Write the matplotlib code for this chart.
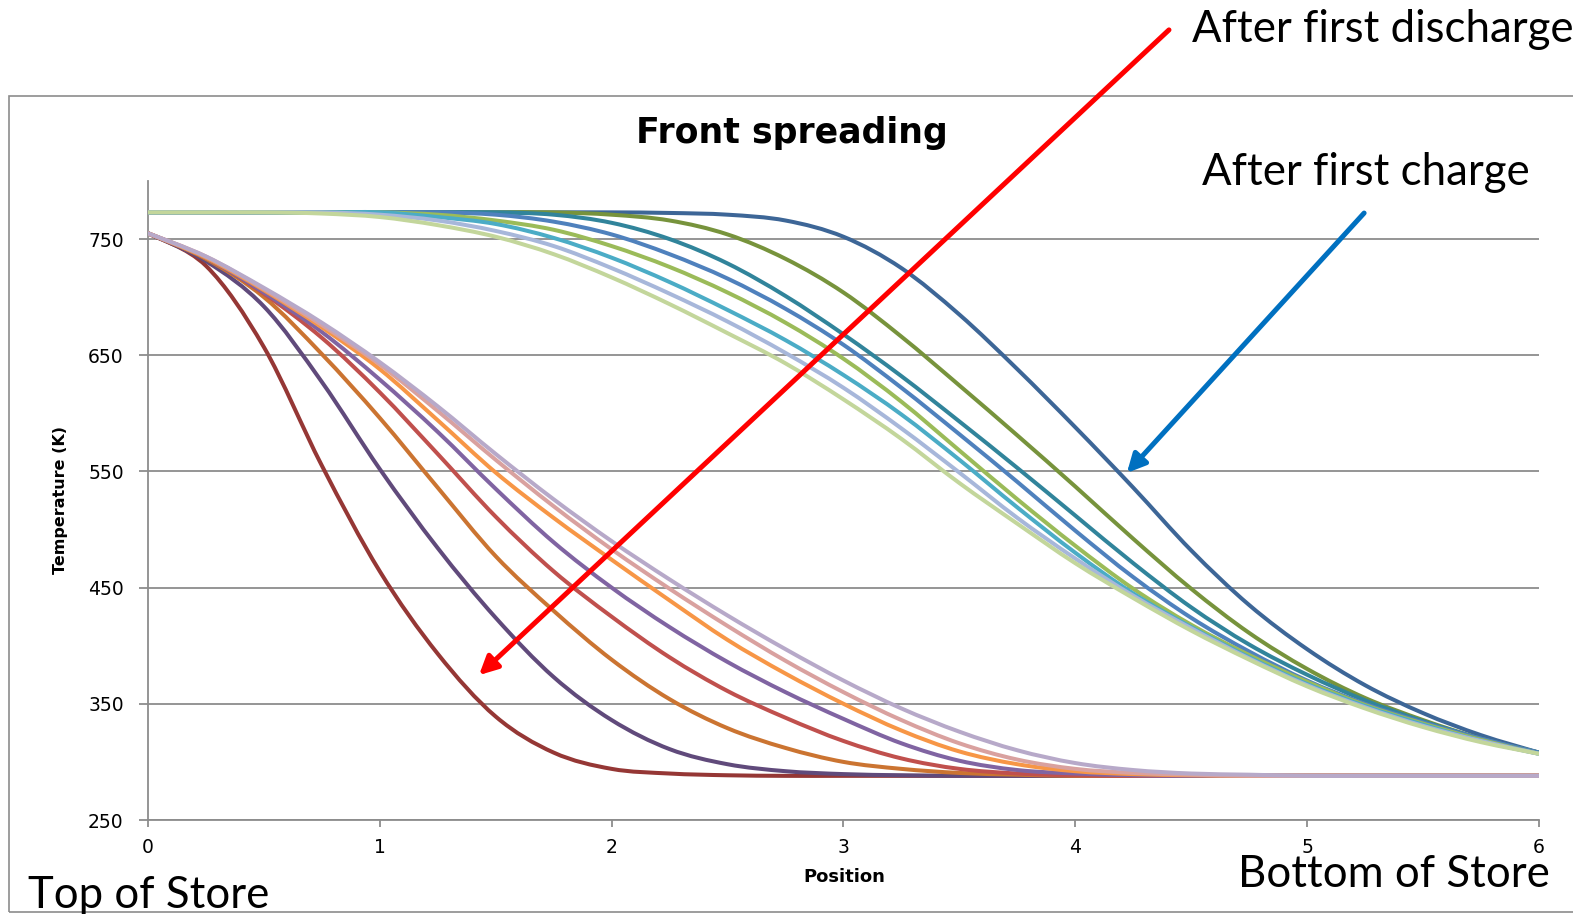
import matplotlib.pyplot as plt
from matplotlib import font_manager
from matplotlib.patches import Rectangle, FancyArrowPatch, PathPatch
from matplotlib.path import Path

# position along the store (0 = top, 6 = bottom)
position = [0, 0.25, 0.5, 0.75, 1, 1.25, 1.5, 1.75, 2, 2.25, 2.5, 2.75, 3,
            3.25, 3.5, 3.75, 4, 4.25, 4.5, 4.75, 5, 5.25, 5.5, 5.75, 6]

# temperature profiles (K) after each charge
charge_1 = [773, 773, 773, 773, 773, 773, 773, 773, 773, 772.5, 771, 766, 752,
            725, 685, 638, 588, 536, 482, 435, 397, 366, 342, 323, 308]
charge_2 = [773, 773, 773, 773, 773, 773, 773, 773, 771, 766, 754, 733, 704,
            666, 624, 581, 537, 492, 449, 411, 380, 355, 336, 320, 308]
charge_3 = [773, 773, 773, 773, 773, 773, 773, 771, 764, 750, 729, 701, 668,
            632, 593, 553, 512, 471, 433, 401, 375, 353, 335, 320, 308]
charge_4 = [773, 773, 773, 773, 773, 773, 771, 765, 754, 737, 716, 690, 659,
            622, 582, 541, 499, 459, 424, 395, 370, 350, 334, 320, 308]
charge_5 = [773, 773, 773, 773, 773, 771, 766, 758, 744, 726, 704, 678, 647,
            610, 568, 526, 486, 449, 418, 392, 369, 349, 333, 319, 307]
charge_6 = [773, 773, 773, 773, 773, 769, 763, 751, 734, 713, 689, 663, 633,
            599, 560, 519, 480, 445, 416, 390, 367, 348, 332, 318, 307]
charge_7 = [773, 773, 773, 773, 771, 766, 757, 744, 725, 703, 679, 652, 622,
            587, 549, 510, 475, 443, 415, 389, 366, 347, 331, 318, 307]
charge_8 = [773, 773, 773, 772, 769, 762, 752, 737, 717, 694, 669, 643, 612,
            578, 540, 505, 471, 441, 413, 388, 365, 346, 330, 317, 307]

# temperature profiles (K) after each discharge
discharge_1 = [755, 727, 657, 555, 464, 393, 339, 308, 294, 290, 288.5, 288, 288,
               288, 288, 288, 288, 288, 288, 288, 288, 288, 288, 288, 288]
discharge_2 = [755, 731, 692, 627, 552, 484, 424, 373, 336, 311, 298, 292, 289.5,
               288.5, 288, 288, 288, 288, 288, 288, 288, 288, 288, 288, 288]
discharge_3 = [755, 733, 700, 651, 596, 536, 477, 430, 388, 354, 329, 312, 300,
               294, 290.5, 289, 288, 288, 288, 288, 288, 288, 288, 288, 288]
discharge_4 = [755, 734, 703, 665, 618, 565, 511, 464, 425, 390, 361, 338, 318,
               303, 294, 290, 288.5, 288, 288, 288, 288, 288, 288, 288, 288]
discharge_5 = [755, 734, 704, 670, 629, 584, 535, 489, 450, 416, 386, 360, 337,
               316, 301, 293, 290, 288.5, 288, 288, 288, 288, 288, 288, 288]
discharge_6 = [755, 734, 706, 674, 638, 594, 549, 510, 474, 439, 405, 376, 350,
               327, 309, 298, 292, 289.5, 288.5, 288, 288, 288, 288, 288, 288]
discharge_7 = [755, 735, 707, 676, 642, 602, 560, 520, 483, 449, 417, 387, 360,
               336, 316, 302, 294, 290.5, 289, 288, 288, 288, 288, 288, 288]
discharge_8 = [755, 735, 708, 678, 644, 606, 565, 526, 490, 457, 426, 397, 370,
               346, 326, 310, 299, 293, 290, 289, 288, 288, 288, 288, 288]

charges = [charge_1, charge_2, charge_3, charge_4, charge_5, charge_6, charge_7, charge_8]
discharges = [discharge_1, discharge_2, discharge_3, discharge_4,
              discharge_5, discharge_6, discharge_7, discharge_8]
charge_colors = ['#3D6697', '#77933C', '#31849B', '#4F81BD',
                 '#9BBB59', '#4BACC6', '#A7B7DA', '#C3D69B']
discharge_colors = ['#953735', '#604A7B', '#CB7431', '#C0504D',
                    '#8064A2', '#F79646', '#D9A19F', '#B7A9C9']

W, H = 1573, 914


def fx(px):
    return px / W


def fy(py):
    return 1 - py / H


def smooth_line(ax, xs, ys, color):
    # excel style "smoothed line": bezier segments through the data points
    n = len(xs)
    verts = [(xs[0], ys[0])]
    codes = [Path.MOVETO]
    for i in range(n - 1):
        x0, y0 = (xs[i - 1], ys[i - 1]) if i > 0 else (xs[i], ys[i])
        x3, y3 = (xs[i + 2], ys[i + 2]) if i + 2 < n else (xs[i + 1], ys[i + 1])
        c1 = (xs[i] + (xs[i + 1] - x0) / 6, ys[i] + (ys[i + 1] - y0) / 6)
        c2 = (xs[i + 1] - (x3 - xs[i]) / 6, ys[i + 1] - (y3 - ys[i]) / 6)
        verts += [c1, c2, (xs[i + 1], ys[i + 1])]
        codes += [Path.CURVE4] * 3
    ax.add_patch(PathPatch(Path(verts, codes), fill=False, edgecolor=color, lw=2.9,
                           capstyle='round', joinstyle='round', zorder=3))


fig = plt.figure(figsize=(W / 100, H / 100), dpi=100)
fig.patch.set_facecolor('white')

# chart area frame
fig.patches.append(Rectangle((fx(9), fy(912)), fx(1575) - fx(9), fy(96) - fy(912),
                             transform=fig.transFigure, fill=False,
                             edgecolor='#8C8C8C', linewidth=1.2, zorder=0))

ax = fig.add_axes([fx(148), fy(820), fx(1539) - fx(148), fy(181) - fy(820)])
grid_c = '#8C8C8C'

for i in range(8):
    smooth_line(ax, position, charges[i], charge_colors[i])
    smooth_line(ax, position, discharges[i], discharge_colors[i])

ax.set_xlim(0, 6)
ax.set_ylim(250, 800)
ax.set_xticks([0, 1, 2, 3, 4, 5, 6])
ax.set_yticks([250, 350, 450, 550, 650, 750])
ax.grid(axis='y', color=grid_c, lw=1.3, zorder=1)
ax.set_axisbelow(True)
for s in ['top', 'right']:
    ax.spines[s].set_visible(False)
for s in ['left', 'bottom']:
    ax.spines[s].set_color(grid_c)
    ax.spines[s].set_linewidth(1.3)
ax.tick_params(axis='x', length=5, width=1.3, color=grid_c, pad=8, labelsize=13.5)
ax.tick_params(axis='y', length=6.5, width=1.3, color=grid_c, pad=11, labelsize=13.5)

names = {f.name for f in font_manager.fontManager.ttflist}
if 'Liberation Sans Narrow' in names:
    fig.text(fx(60), fy(500), 'Temperature (K)', rotation=90, ha='center', va='center',
             family='Liberation Sans Narrow', fontweight='bold', fontsize=14.5)
else:
    fig.text(fx(60), fy(500), 'Temperature (K)', rotation=90, ha='center', va='center',
             family='DejaVu Sans', fontweight='bold', fontsize=11.5)

fig.text(fx(844), fy(877), 'Position', ha='center', va='center',
         fontweight='bold', fontsize=13)
fig.text(fx(792), fy(133), 'Front spreading', ha='center', va='center',
         fontweight='bold', fontsize=25)

big = dict(family=['Lato', 'DejaVu Sans'], fontsize=31.5, va='baseline')
fig.text(fx(1192), fy(42), 'After first discharge', ha='left', **big)
fig.text(fx(1202), fy(185), 'After first charge', ha='left', **big)
fig.text(fx(28), fy(908), 'Top of Store', ha='left', **big)
fig.text(fx(1238), fy(887), 'Bottom of Store', ha='left', **big)

fig.patches.append(FancyArrowPatch((fx(1171), fy(28)), (fx(477), fy(677)),
                                   transform=fig.transFigure,
                                   arrowstyle='-|>,head_length=11,head_width=5.5',
                                   color='#FF0000', lw=3.6, zorder=10))
fig.patches.append(FancyArrowPatch((fx(1366), fy(211)), (fx(1125), fy(475)),
                                   transform=fig.transFigure,
                                   arrowstyle='-|>,head_length=11,head_width=5.5',
                                   color='#0070C0', lw=3.6, zorder=10))

fig.savefig('out.png', dpi=100)
